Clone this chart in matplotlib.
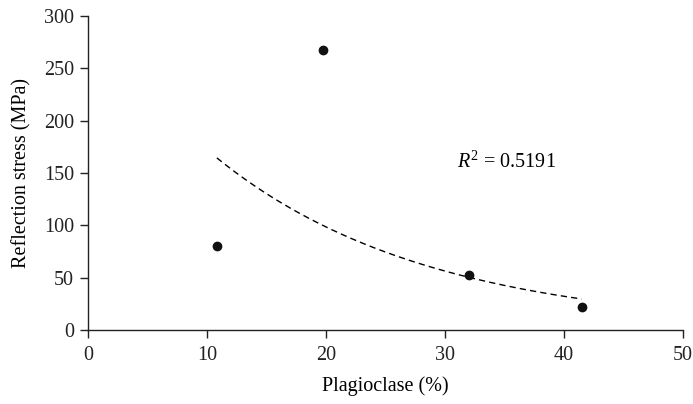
import numpy as np
import matplotlib
matplotlib.use("Agg")
import matplotlib.pyplot as plt

plt.rcParams['font.family'] = ['Liberation Serif', 'DejaVu Serif']
plt.rcParams['mathtext.fontset'] = 'custom'
plt.rcParams['mathtext.it'] = 'Liberation Serif:italic'
plt.rcParams['mathtext.rm'] = 'Liberation Serif'

# plagioclase content (%) vs reflection stress (MPa)
plagioclase = [10.8, 19.7, 32.0, 41.5]
stress = [80.5, 267.5, 53.0, 21.5]
r2_label = "0.5191"

x = np.array(plagioclase)
y = np.array(stress)

# exponential trend line, fitted in log space
b, lna = np.polyfit(x, np.log(y), 1)
xf = np.linspace(x.min(), x.max(), 200)
yf = np.exp(lna) * np.exp(b * xf)

fig = plt.figure(figsize=(6.93, 4.04), dpi=100)
ax = fig.add_axes([0.1277, 0.1832, 0.8574, 0.7772])

ax.plot(xf, yf, '--', color='black', lw=1.0, dashes=(4.5, 3))
ax.scatter(x, y, s=36, color='#111111', zorder=3)

ax.text(31.0, 160, r'$R^2$ = ' + r2_label, fontsize=14.5, va='center', ha='left')

ax.set_xlim(0, 50)
ax.set_ylim(0, 300)
ax.set_xticks(np.arange(0, 51, 10))
ax.set_yticks(np.arange(0, 301, 50))
ax.spines['top'].set_visible(False)
ax.spines['right'].set_visible(False)
for s in ['left', 'bottom']:
    ax.spines[s].set_linewidth(1.0)
    ax.spines[s].set_color('#222222')
ax.tick_params(direction='out', length=5.5, width=1.0, labelsize=14.5, colors='#222222')
ax.tick_params(axis='x', pad=6)
ax.tick_params(axis='y', pad=5)

ax.set_xlabel('Plagioclase (%)', fontsize=14.5, labelpad=8)
ax.set_ylabel('Reflection stress (MPa)', fontsize=14.5, labelpad=9)

fig.savefig('out.png', dpi=100)
